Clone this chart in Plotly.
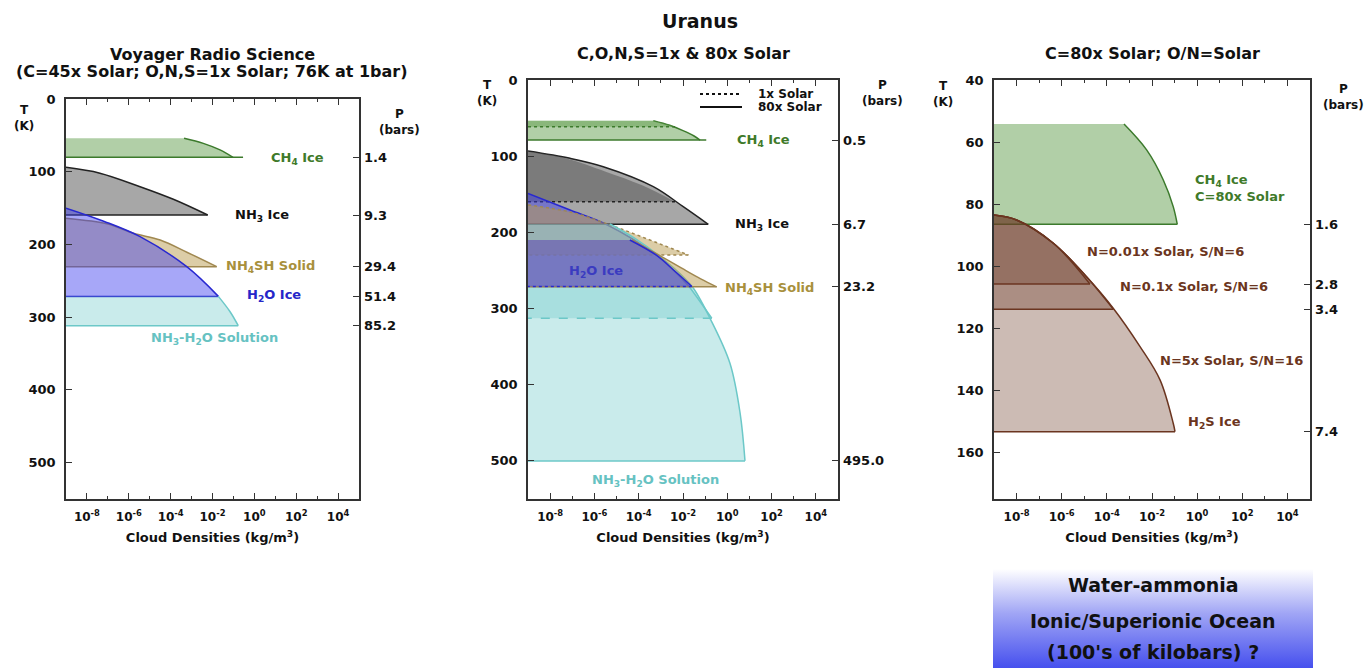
import plotly.graph_objects as go

W, H = 1368, 668
FONT = "DejaVu Sans"

# ---------------- data (log10 density, temperature K) ----------------
# Left panel: Voyager radio science
L_CH4_LOG = [-3.36, -2.44, -1.64, -1.02]
L_CH4_T = [54.0, 61.0, 70.0, 80.2]
L_CH4_TAIL = -0.54
L_NH3_LOG = [-9.0, -7.38, -5.46, -3.87, -2.23]
L_NH3_T = [94.0, 102.0, 120.6, 137.9, 159.5]
L_NH4SH_LOG = [-9.0, -7.0, -5.78, -4.5, -3.2, -1.8]
L_NH4SH_T = [164.0, 172.0, 184.7, 193.9, 211.0, 230.5]
L_H2O_LOG = [-9.0, -7.2, -5.46, -3.23, -1.72]
L_H2O_T = [150.0, 168.0, 189.3, 230.6, 271.4]
L_SOL_LOG = [-1.72, -1.16, -0.77]
L_SOL_T = [271.4, 292.5, 311.7]
L_P_T = [80.2, 159.5, 230.5, 271.4, 311.7]
L_P_TEXT = ["1.4", "9.3", "29.4", "51.4", "85.2"]

# Middle panel: 1x (dotted) and 80x (solid) solar
M_CH4_80_LOG = [-3.34, -2.6, -2.0, -1.5, -1.23]
M_CH4_80_T = [53.4, 59.5, 66.5, 73.5, 78.8]
M_CH4_80_TAIL = -0.95
M_CH4_1_LOG = [-3.34, -2.8, -2.36]
M_CH4_1_T = [53.4, 57.5, 61.3]
M_NH3_80_LOG = [-9.0, -7.1, -5.6, -3.34, -1.99, -0.86]
M_NH3_80_T = [93.2, 102.8, 113.8, 140.0, 166.3, 189.4]
M_NH3_1_LOG = [-9.0, -7.38, -5.46, -3.87, -2.36]
M_NH3_1_T = [94.0, 102.0, 120.6, 137.9, 159.7]
M_H2O_1_LOG = [-9.0, -7.1, -5.5, -3.2, -1.72]
M_H2O_1_T = [149.0, 170.6, 189.0, 230.0, 271.0]
M_NH4SH_1_LOG = [-9.0, -7.0, -5.07, -3.11, -1.76]
M_NH4SH_1_T = [164.0, 174.0, 192.6, 214.4, 229.7]
M_SOL_80_LOG = [-5.3, -4.17, -2.9, -2.0, -1.53, -0.78, 0.12, 0.58, 0.80]
M_SOL_80_T = [189.0, 208.0, 235.0, 258.0, 273.4, 312.8, 371.8, 437.5, 500.0]
M_SOL_1_LOG = [-1.72, -1.2, -0.7]
M_SOL_1_T = [271.0, 292.0, 312.8]
M_NH4SH_80_LOG = [-4.3, -3.2, -2.06, -1.2, -0.48]
M_NH4SH_80_T = [210.0, 228.0, 247.0, 261.0, 271.5]
M_H2O_80_LOG = [-4.4, -3.2, -2.4, -1.6]
M_H2O_80_T = [210.0, 230.0, 250.0, 271.0]
M_P_T = [78.8, 189.4, 271.5, 500.0]
M_P_TEXT = ["0.5", "6.7", "23.2", "495.0"]

# Right panel: C=80x solar, H2S ice variants
R_CH4_LOG = [-3.24, -2.23, -1.5, -1.06, -0.88]
R_CH4_T = [54.2, 62.6, 72.2, 80.8, 86.5]
R_H2S_5_LOG = [-9.0, -8.0, -6.37, -4.9, -3.71, -2.53, -1.64, -1.06, -0.98]
R_H2S_5_T = [83.5, 85.1, 92.6, 103.4, 113.6, 125.9, 136.7, 150.6, 153.3]
R_H2S_01_LOG = [-9.0, -8.0, -6.37, -4.9, -3.71]
R_H2S_01_T = [83.5, 85.1, 92.6, 103.4, 113.9]
R_H2S_001_LOG = [-9.0, -8.0, -6.37, -4.75]
R_H2S_001_T = [83.5, 85.1, 92.6, 105.7]
R_P_T = [86.6, 105.8, 113.9, 153.3]
R_P_TEXT = ["1.6", "2.8", "3.4", "7.4"]

X_TICK_EXP = [-8, -6, -4, -2, 0, 2, 4]
X_MINOR_EXP = [-7, -5, -3, -1, 1, 3]
LEFT_T_TICKS = [0, 100, 200, 300, 400, 500]
RIGHT_T_TICKS = [40, 60, 80, 100, 120, 140, 160]

# ---------------- styles ----------------
GREEN_F, GREEN_L, GREEN_T = "rgba(100,160,80,0.5)", "#3c7a2c", "#3f7a2a"
GRAY_F, GRAY_L = "rgba(80,80,80,0.5)", "#222222"
TAN_F, TAN_L, TAN_T = "rgba(185,155,80,0.5)", "#a08850", "#a8903c"
BLUE_F, BLUE_L, BLUE_T = "rgba(60,60,240,0.45)", "#2828d0", "#2626c8"
CYAN_F, CYAN_L, CYAN_T = "rgba(120,205,205,0.4)", "#6cc8c8", "#66c2c2"
BROWN_F, BROWN_L, BROWN_T = "rgba(110,60,40,0.35)", "#6b3520", "#6b3520"
XMIN = 1e-9

fig = go.Figure()


def cloud(xa, ya, logs, temps, fill, line, curve_dash="solid", base_dash="solid",
          tail=None, lw=1.5):
    dens = [10 ** e for e in logs]
    t_top, t_base = temps[0], temps[-1]
    # left edge of the cloud (plot boundary)
    fig.add_trace(go.Scatter(
        x=[XMIN, XMIN], y=[t_top, t_base], mode="lines", line=dict(width=0),
        xaxis=xa, yaxis=ya, hoverinfo="skip", showlegend=False))
    # smooth density profile, filled back to the left edge
    fig.add_trace(go.Scatter(
        x=dens, y=temps, mode="lines", fill="tonextx", fillcolor=fill,
        line=dict(color=line, width=(lw if curve_dash else 0), dash=curve_dash or "solid",
                  shape="spline", smoothing=1.0),
        xaxis=xa, yaxis=ya, hoverinfo="skip", showlegend=False))
    end = 10 ** tail if tail is not None else dens[-1]
    fig.add_trace(go.Scatter(
        x=[end, XMIN], y=[t_base, t_base], mode="lines",
        line=dict(color=line, width=lw, dash=base_dash),
        xaxis=xa, yaxis=ya, hoverinfo="skip", showlegend=False))


# Left panel
cloud("x", "y", L_CH4_LOG, L_CH4_T, GREEN_F, GREEN_L, tail=L_CH4_TAIL)
cloud("x", "y", L_NH3_LOG, L_NH3_T, GRAY_F, GRAY_L)
cloud("x", "y", L_NH4SH_LOG, L_NH4SH_T, TAN_F, TAN_L)
cloud("x", "y", L_H2O_LOG, L_H2O_T, BLUE_F, BLUE_L)
cloud("x", "y", L_SOL_LOG, L_SOL_T, CYAN_F, CYAN_L)

# Middle panel
cloud("x2", "y2", M_CH4_80_LOG, M_CH4_80_T, GREEN_F, GREEN_L, tail=M_CH4_80_TAIL)
cloud("x2", "y2", M_CH4_1_LOG, M_CH4_1_T, GREEN_F, GREEN_L, curve_dash=None, base_dash="dot")
cloud("x2", "y2", M_NH3_80_LOG, M_NH3_80_T, GRAY_F, GRAY_L)
cloud("x2", "y2", M_NH3_1_LOG, M_NH3_1_T, GRAY_F, GRAY_L, curve_dash=None, base_dash="dot")
cloud("x2", "y2", M_H2O_1_LOG, M_H2O_1_T, BLUE_F, BLUE_L, base_dash="dot")
cloud("x2", "y2", M_NH4SH_1_LOG, M_NH4SH_1_T, TAN_F, TAN_L, curve_dash="dot", base_dash="dot")
cloud("x2", "y2", M_SOL_80_LOG, M_SOL_80_T, CYAN_F, CYAN_L)
cloud("x2", "y2", M_SOL_1_LOG, M_SOL_1_T, CYAN_F, CYAN_L, base_dash="dash")
cloud("x2", "y2", M_NH4SH_80_LOG, M_NH4SH_80_T, TAN_F, TAN_L)
cloud("x2", "y2", M_H2O_80_LOG, M_H2O_80_T, BLUE_F, BLUE_L, base_dash="dot")

# Right panel
cloud("x3", "y3", R_CH4_LOG, R_CH4_T, GREEN_F, GREEN_L)
cloud("x3", "y3", R_H2S_5_LOG, R_H2S_5_T, BROWN_F, BROWN_L)
cloud("x3", "y3", R_H2S_01_LOG, R_H2S_01_T, BROWN_F, BROWN_L)
cloud("x3", "y3", R_H2S_001_LOG, R_H2S_001_T, BROWN_F, BROWN_L)

# invisible anchors so the pressure (right) axes are drawn
for xa, ya, pt in (("x", "y4", L_P_T), ("x2", "y5", M_P_T), ("x3", "y6", R_P_T)):
    fig.add_trace(go.Scatter(x=[XMIN] * len(pt), y=pt, mode="markers",
                             marker=dict(opacity=0, size=1), xaxis=xa, yaxis=ya,
                             hoverinfo="skip", showlegend=False))

# Gradient box (ocean)
fig.add_trace(go.Scatter(x=[0, 1, 1, 0, 0], y=[0, 0, 1, 1, 0], fill="toself", mode="lines",
                         line=dict(width=0), xaxis="x4", yaxis="y7", hoverinfo="skip",
                         showlegend=False,
                         fillgradient=dict(type="vertical",
                                           colorscale=[[0, "rgb(70,80,238)"], [0.55, "rgb(160,165,245)"],
                                                       [1, "rgb(255,255,255)"]])))


def px(x):
    return x / W


def py(y):
    return 1 - y / H


TICKFONT = dict(family=FONT, size=13, color="#111", weight="bold")
X_VALS = [10 ** e for e in X_TICK_EXP]
X_TEXT = ["10<sup>%d</sup>" % e for e in X_TICK_EXP]
X_MINOR = [10 ** e for e in X_MINOR_EXP]


def xcfg(x0, x1, anchor):
    return dict(domain=[px(x0), px(x1)], anchor=anchor, type="log", range=[-9, 5],
                tickvals=X_VALS, ticktext=X_TEXT, ticks="inside", ticklen=6,
                tickcolor="#333", showline=True, linecolor="#333", linewidth=1.5,
                mirror="ticks", showgrid=False, zeroline=False, automargin=False,
                tickfont=dict(family=FONT, size=12, color="#111", weight="bold"),
                ticklabelstandoff=6,
                minor=dict(tickvals=X_MINOR, ticks="inside", ticklen=3, tickcolor="#333",
                           showgrid=False),
                title=dict(text="Cloud Densities (kg/m<sup>3</sup>)",
                           font=dict(family=FONT, size=13, color="#111", weight="bold"),
                           standoff=10))


def ycfg(y0, y1, anchor, rng, vals):
    return dict(domain=[py(y1), py(y0)], anchor=anchor, range=rng, tickvals=vals,
                ticks="inside", ticklen=6, tickcolor="#333", showline=True,
                linecolor="#333", linewidth=1.5, mirror=True, showgrid=False,
                zeroline=False, tickfont=TICKFONT, ticklabelstandoff=6, automargin=False)


def pcfg(over, anchor, rng, vals, text):
    return dict(overlaying=over, side="right", anchor=anchor, range=rng, tickvals=vals,
                ticktext=text, ticks="inside", ticklen=6, tickcolor="#333",
                showline=False, showgrid=False, zeroline=False, tickfont=TICKFONT,
                ticklabelstandoff=4, automargin=False)


fig.update_layout(
    width=W, height=H, autosize=False,
    margin=dict(l=0, r=0, t=0, b=0, pad=0, autoexpand=False),
    paper_bgcolor="white", plot_bgcolor="rgba(0,0,0,0)",
    font=dict(family=FONT, color="#111"),
    xaxis=xcfg(66, 359, "y"),
    yaxis=ycfg(99, 499, "x", [550, 0], LEFT_T_TICKS),
    yaxis4=pcfg("y", "x", [550, 0], L_P_T, L_P_TEXT),
    xaxis2=xcfg(528, 838, "y2"),
    yaxis2=ycfg(80, 499, "x2", [550, 0], LEFT_T_TICKS),
    yaxis5=pcfg("y2", "x2", [550, 0], M_P_T, M_P_TEXT),
    xaxis3=xcfg(994, 1310, "y3"),
    yaxis3=ycfg(80, 499, "x3", [175, 40], RIGHT_T_TICKS),
    yaxis6=pcfg("y3", "x3", [175, 40], R_P_T, R_P_TEXT),
    xaxis4=dict(domain=[px(993), px(1313)], anchor="y7", range=[0, 1], visible=False,
                automargin=False),
    yaxis7=dict(domain=[0, py(569)], anchor="x4", range=[0, 1], visible=False,
                automargin=False),
    showlegend=False,
)


def note(text, x, y, size=13, color="#111", xanchor="center", align="center"):
    fig.add_annotation(text=text, x=px(x), y=py(y), xref="paper", yref="paper",
                       showarrow=False, xanchor=xanchor, yanchor="middle", align=align,
                       font=dict(family=FONT, size=size, color=color, weight="bold"))


# Legend key for the middle panel (1x dotted, 80x solid)
for yk, dash in ((94, "dot"), (107, "solid")):
    fig.add_shape(type="line", xref="paper", yref="paper", x0=px(700), x1=px(742),
                  y0=py(yk), y1=py(yk), line=dict(color="#111", width=2, dash=dash))
note("1x Solar", 756, 94, size=12, xanchor="left")
note("80x Solar", 756, 107, size=12, xanchor="left")

# Titles
note("Uranus", 700, 21, size=19)
note("Voyager Radio Science", 212, 54, size=16)
note("(C=45x Solar; O,N,S=1x Solar; 76K at 1bar)", 212, 72, size=16)
note("C,O,N,S=1x &amp; 80x Solar", 683, 53, size=16)
note("C=80x Solar; O/N=Solar", 1152, 53, size=16)

# Axis side labels
note("T<br>(K)", 24, 118, size=12)
note("P<br>(bars)", 399, 122, size=12)
note("T<br>(K)", 487, 93, size=12)
note("P<br>(bars)", 882, 93, size=12)
note("T<br>(K)", 943, 94, size=12)
note("P<br>(bars)", 1343, 97, size=12)

# Left panel labels
note("CH<sub>4</sub> Ice", 297, 158, color=GREEN_T)
note("NH<sub>3</sub> Ice", 262, 215)
note("NH<sub>4</sub>SH Solid", 270, 266, color=TAN_T)
note("H<sub>2</sub>O Ice", 274, 296, color=BLUE_T)
note("NH<sub>3</sub>-H<sub>2</sub>O Solution", 214, 338, color=CYAN_T)

# Middle panel labels
note("CH<sub>4</sub> Ice", 763, 141, color=GREEN_T)
note("NH<sub>3</sub> Ice", 762, 225)
note("H<sub>2</sub>O Ice", 596, 271, color="#3b3bc0")
note("NH<sub>4</sub>SH Solid", 769, 288, color=TAN_T)
note("NH<sub>3</sub>-H<sub>2</sub>O Solution", 655, 480, color=CYAN_T)

# Right panel labels
note("CH<sub>4</sub> Ice<br>C=80x Solar", 1193, 188, color=GREEN_T, xanchor="left", align="left")
note("N=0.01x Solar, S/N=6", 1165, 251, color=BROWN_T)
note("N=0.1x Solar, S/N=6", 1194, 286, color=BROWN_T)
note("N=5x Solar, S/N=16", 1231, 360, color=BROWN_T)
note("H<sub>2</sub>S Ice", 1214, 422, color=BROWN_T)

# Ocean box text
note("Water-ammonia", 1153, 585, size=19)
note("Ionic/Superionic Ocean", 1153, 621, size=19)
note("(100's of kilobars) ?", 1153, 652, size=19)

fig.write_html("out.html", config={"displayModeBar": False},
               post_script="document.body.style.margin='0px';document.body.style.overflow='hidden';")
